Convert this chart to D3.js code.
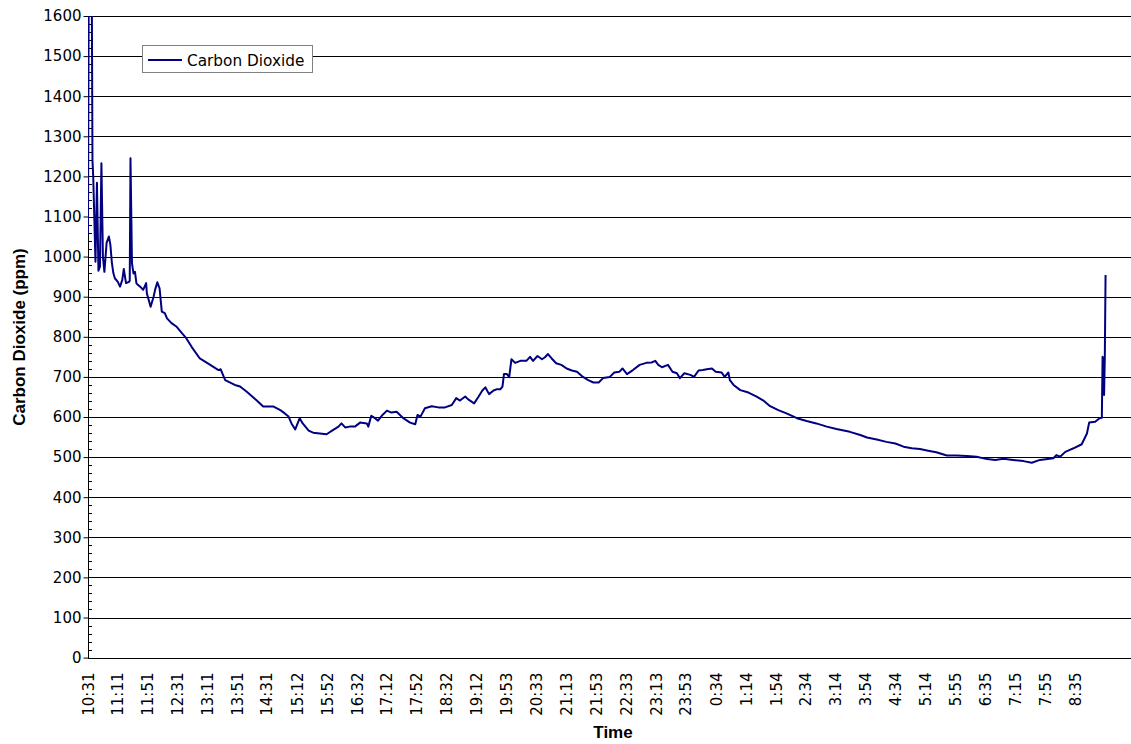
<!DOCTYPE html>
<html><head><meta charset="utf-8">
<script src="https://cdn.jsdelivr.net/npm/d3@7/dist/d3.min.js"></script>
<style>body{margin:0;background:#fff}svg{display:block}</style>
</head><body><svg id="c" width="1131" height="744"></svg>
<script>
// Tick labels (category axis labels), times of day
const tickLabels = ["10:31","11:11","11:51","12:31","13:11","13:51","14:31","15:12","15:52","16:32","17:12","17:52","18:32","19:12","19:53","20:33","21:13","21:53","22:33","23:13","23:53","0:34","1:14","1:54","2:34","3:14","3:54","4:34","5:14","5:55","6:35","7:15","7:55","8:35"];
// Minutes elapsed since 10:31 for each reading
const minutes = [0,1,2,3,4,5,6,7,10,12,14,16,18,20,22,25,27,28,30,32,34,36,40,43,46,48,51,55,56,57,59,61,63,65,70,74,78,79,84,88,90,93,96,99,103,106,112,119,126,132,139,150,164,175,178,184,197,204,213,226,235,249,258,264,269,273,278,284,288,296,302,311,320,329,336,340,345,351,358,365,374,376,380,385,389,394,401,407,414,423,432,439,442,446,452,461,470,479,488,494,499,506,510,518,524,529,533,538,544,548,553,556,558,562,565,568,573,580,588,593,597,603,609,613,617,622,628,635,642,649,656,664,671,678,685,691,700,706,713,717,723,731,740,749,756,761,765,770,778,784,790,794,800,808,813,819,825,830,837,842,850,854,859,861,866,875,886,897,906,915,926,937,951,964,977,991,1004,1022,1036,1045,1058,1071,1083,1094,1105,1116,1127,1138,1152,1165,1179,1192,1206,1217,1228,1241,1255,1266,1277,1295,1299,1304,1311,1317,1322,1333,1340,1343,1351,1357,1360,1361,1362,1363,1364,1365];
// Carbon dioxide readings (ppm)
const co2 = [1059,1700,1620,1700,1650,1700,1240,1200,987,1184,965,975,1233,1000,962,1035,1045,1050,1030,985,959,946,937,925,942,969,934,937,940,1245,983,958,962,933,925,917,934,908,875,900,917,936,921,863,859,846,834,825,809,796,775,746,730,717,719,692,680,676,663,642,626,626,617,609,601,584,569,597,584,566,561,559,557,568,576,584,574,576,576,586,584,576,603,597,591,603,616,611,613,597,586,582,605,601,622,627,624,624,630,647,641,651,644,634,651,666,674,657,666,669,669,676,707,707,699,744,735,740,740,750,740,752,744,749,757,746,734,730,721,716,713,700,692,686,686,697,700,711,713,721,707,717,730,735,736,740,730,724,730,713,709,697,709,705,700,716,717,719,721,713,711,700,711,692,680,667,661,651,641,627,617,609,597,590,584,576,570,563,555,549,544,538,534,526,522,520,516,512,504,504,503,501,495,493,496,493,490,486,493,497,505,501,513,518,522,532,559,586,588,597,598,750,745,655,750,954];
const yTicks = d3.range(0, 1601, 100);
const seriesName = "Carbon Dioxide";

function toElapsed(lbl, prev) {
  const [h, m] = lbl.split(":").map(Number);
  let t = h * 60 + m - (10 * 60 + 31);
  while (t < prev) t += 1440;
  return t;
}
let prev = 0;
const tickPos = tickLabels.map(l => { prev = toElapsed(l, prev); return prev; });

const svg = d3.select("#c");
const L = 88, R = 1131, T = 16, B = 657.6;
const x = d3.scaleLinear().domain([0, tickPos[tickPos.length - 1]]).range([L, 1075]);
const y = d3.scaleLinear().domain([0, 1600]).range([B, T]);

// gridlines
svg.append("g").selectAll("line").data(yTicks.filter(d => d > 0)).join("line")
  .attr("x1", L).attr("x2", R).attr("y1", d => Math.round(y(d)) + 0.5).attr("y2", d => Math.round(y(d)) + 0.5)
  .attr("stroke", "#000").attr("stroke-width", 1);

// y axis
const yAxis = d3.axisLeft(y).tickValues(yTicks).tickSize(5).tickPadding(2).tickFormat(d3.format("d"));
const gy = svg.append("g").attr("transform", `translate(${L + 0.5},0)`).call(yAxis);
gy.select(".domain").remove();
gy.selectAll(".tick line").attr("stroke", "#000");
gy.selectAll("text").attr("font-family", "DejaVu Sans").attr("font-size", 15).attr("fill", "#000");
// minor ticks
svg.append("g").selectAll("line").data(d3.range(0, 1601, 20)).join("line")
  .attr("x1", L).attr("x2", L + 4).attr("y1", d => Math.round(y(d)) + 0.5).attr("y2", d => Math.round(y(d)) + 0.5)
  .attr("stroke", "#000");
svg.append("line").attr("x1", L + 0.5).attr("x2", L + 0.5).attr("y1", T).attr("y2", Math.round(B) + 0.5).attr("stroke", "#000");

// x axis
const xAxis = d3.axisBottom(x).tickValues(tickPos).tickSize(0).tickPadding(0).tickFormat((d, i) => tickLabels[i]);
const gx = svg.append("g").attr("transform", `translate(0,${Math.round(B) + 0.5})`).call(xAxis);
gx.select(".domain").remove();
gx.selectAll("text").attr("font-family", "DejaVu Sans").attr("font-size", 15).attr("fill", "#000")
  .attr("text-anchor", "end").attr("dy", null).attr("y", 0)
  .attr("transform", "translate(5,14) rotate(-90)");
svg.append("line").attr("x1", L).attr("x2", R).attr("y1", Math.round(B) + 0.5).attr("y2", Math.round(B) + 0.5).attr("stroke", "#000");

// clip and line
svg.append("clipPath").attr("id", "clip").append("rect").attr("x", L).attr("y", T).attr("width", R - L).attr("height", B - T);
const pts = minutes.map((m, i) => [m, co2[i]]);
svg.append("path").datum(pts).attr("clip-path", "url(#clip)")
  .attr("fill", "none").attr("stroke", "#000080").attr("stroke-width", 2).attr("stroke-linejoin", "round")
  .attr("d", d3.line().x(d => x(d[0])).y(d => y(d[1])));

// titles
svg.append("text").attr("x", 613).attr("y", 738).attr("text-anchor", "middle")
  .attr("font-family", "Liberation Sans").attr("font-weight", "bold").attr("font-size", 17).text("Time");
svg.append("text").attr("transform", "translate(25,337) rotate(-90)").attr("text-anchor", "middle")
  .attr("font-family", "Liberation Sans").attr("font-weight", "bold").attr("font-size", 17).text("Carbon Dioxide (ppm)");

// legend
const lg = svg.append("g");
lg.append("rect").attr("x", 142.5).attr("y", 45.5).attr("width", 170).attr("height", 27).attr("fill", "#fff").attr("stroke", "#808080");
lg.append("line").attr("x1", 148).attr("x2", 182).attr("y1", 60).attr("y2", 60).attr("stroke", "#000080").attr("stroke-width", 2);
lg.append("text").attr("x", 187).attr("y", 65.5).attr("font-family", "DejaVu Sans").attr("font-size", 15.3).text(seriesName);
</script></body></html>
